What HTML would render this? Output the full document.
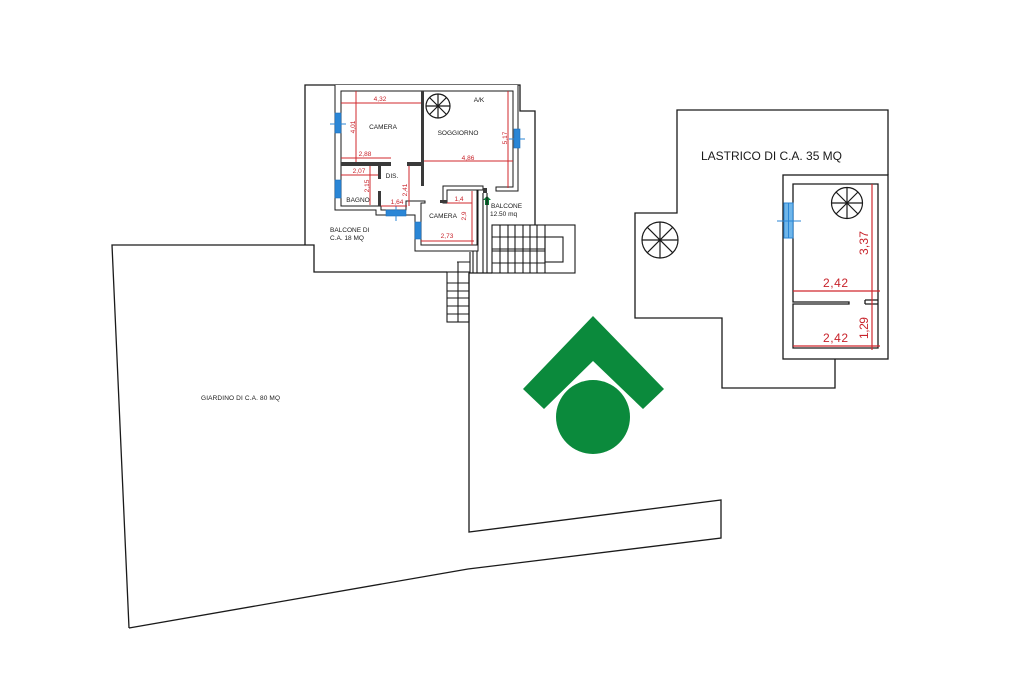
<!DOCTYPE html>
<html><head><meta charset="utf-8"><style>
html,body{margin:0;padding:0;background:#fff;width:1024px;height:682px;overflow:hidden}
svg{display:block}
text{font-family:"Liberation Sans",Arial,sans-serif}
</style></head><body>
<svg width="1024" height="682" viewBox="0 0 1024 682" xmlns="http://www.w3.org/2000/svg">
<rect width="1024" height="682" fill="#fff"/>
<g fill="none" stroke="#1a1a1a" stroke-width="1.3" stroke-linejoin="miter">
<!-- garden -->
<path d="M129,628 L112,245 L314,245 L314,272 L447,272"/>
<path d="M469,273 L469,532 L721,500 L721,538 L468,569 L129,628"/>
<path d="M469,273 L492,273"/>
<!-- building outer boundary -->
<path d="M305,245 L305,85 L520,85 L520,111 L535,111 L535,225"/>
<!-- lastrico -->
<path d="M888,175 L888,110 L677,110 L677,213 L635,213 L635,318 L722,318 L722,388 L835,388 L835,359"/>
<rect x="783" y="175" width="105" height="184"/>
<path d="M849,302 L793,302 L793,184 L878,184 L878,348 L793,348 L793,304 L849,304 Z"/>
<path d="M865,300 L878,300 M865,304 L878,304 M865,300 L865,304"/>
</g>
<!-- lastrico red dims -->
<g stroke="#d0282e" stroke-width="1.2" fill="none">
<path d="M872,184 L872,350 M793,291 L880,291 M793,346 L880,346"/>
</g>
<g fill="#c8232b" font-size="12">
<text x="823" y="287" textLength="25">2,42</text>
<text x="823" y="342" textLength="25">2,42</text>
<text transform="translate(868,255) rotate(-90)" textLength="24">3,37</text>
<text transform="translate(868,339) rotate(-90)" textLength="22">1,29</text>
</g>
<text x="701" y="160" font-size="12" fill="#1a1a1a" textLength="141">LASTRICO DI C.A. 35 MQ</text>
<!-- spirals -->
<g fill="none" stroke="#1a1a1a" stroke-width="1.2">
<circle cx="660" cy="240" r="18"/>
<path d="M642,240 L678,240 M660,222 L660,258 M647.3,227.3 L672.7,252.7 M647.3,252.7 L672.7,227.3"/>
<circle cx="847" cy="203" r="15.5"/>
<path d="M831.5,203 L862.5,203 M847,187.5 L847,218.5 M836,192 L858,214 M836,214 L858,192"/>
<circle cx="438" cy="106" r="12"/>
<path d="M426,106 L450,106 M438,94 L438,118 M429.5,97.5 L446.5,114.5 M429.5,114.5 L446.5,97.5"/>
</g>
<!-- lastrico window -->
<rect x="784" y="203" width="9" height="35" fill="#6fb6ea" stroke="#2a86d6" stroke-width="1"/>
<path d="M788.5,203 L788.5,238 M777,221 L801,221" stroke="#2a86d6" stroke-width="1"/>
<!-- floor plan walls -->
<g fill="#fff" stroke="#1a1a1a" stroke-width="1">
<path d="M335,85 L335,210 L376,210 L376,215 L415,215 L415,251 L478,251 L478,190 L483,190 L483,186 L443,186 L443,203 L447,203 L447,190 L477,190 L477,245 L421,245 L421,203 L425,203 L425,201 L406,201 L406,210 L381,210 L381,206 L341,206 L341,91 L513,91 L513,187 L496,187 L496,191 L518,191 L518,85"/>
</g>
<g fill="#3a3a3a">
<rect x="421" y="91" width="3" height="95"/>
<rect x="341" y="162" width="50" height="4"/>
<rect x="407" y="162" width="17" height="4"/>
<rect x="378" y="165" width="3" height="14"/>
<rect x="378" y="191" width="3" height="15"/>
<rect x="440" y="200" width="7" height="3"/>
<rect x="483" y="188" width="4" height="5"/>
</g>
<!-- windows -->
<g fill="#2a86d6" stroke="#1f6fb8" stroke-width="0.6">
<rect x="335" y="113" width="6" height="20"/>
<rect x="335" y="180" width="6" height="18"/>
<rect x="514" y="129" width="6" height="19"/>
<rect x="386" y="210" width="20" height="6"/>
<rect x="415" y="222" width="6" height="17"/>
</g>
<path d="M330,124 L346,124 M509,139 L525,139 M396,206 L396,221" stroke="#2a86d6" stroke-width="1"/>
<!-- red dims floorplan -->
<g stroke="#d0282e" stroke-width="1" fill="none">
<path d="M341,103 L421,103 M356,91 L356,162 M341,158 L391,158 M341,175 L378,175 M370,166 L370,205 M409,166 L409,206 M381,206 L407,206"/>
<path d="M424,161 L513,161 M508,91 L508,188"/>
<path d="M447,203 L472,203 M472,191 L472,245 M421,241 L474,241"/>
</g>
<g fill="#c8232b" font-size="6.5" text-anchor="middle">
<text x="380" y="101">4,32</text>
<text x="365" y="156">2,88</text>
<text x="359" y="173">2,07</text>
<text x="397" y="204">1,64</text>
<text x="468" y="160">4,86</text>
<text x="459" y="201">1,4</text>
<text x="447" y="238">2,73</text>
<text transform="translate(355,127) rotate(-90)">4,01</text>
<text transform="translate(369,186) rotate(-90)">2,15</text>
<text transform="translate(407,190) rotate(-90)">2,41</text>
<text transform="translate(507,138) rotate(-90)">5,17</text>
<text transform="translate(466,216) rotate(-90)">2,9</text>
</g>
<g fill="#1a1a1a" font-size="6.5">
<text x="383" y="129" text-anchor="middle">CAMERA</text>
<text x="458" y="135" text-anchor="middle">SOGGIORNO</text>
<text x="479" y="102" text-anchor="middle">A/K</text>
<text x="392" y="178" text-anchor="middle">DIS.</text>
<text x="358" y="202" text-anchor="middle">BAGNO</text>
<text x="443" y="218" text-anchor="middle">CAMERA</text>
<text x="330" y="232">BALCONE DI</text>
<text x="330" y="240">C.A. 18 MQ</text>
<text x="491" y="208">BALCONE</text>
<text x="490" y="216">12.50 mq</text>
<text x="201" y="400" textLength="79">GIARDINO DI C.A. 80 MQ</text>
</g>
<!-- green arrow -->
<path d="M487,196 L491,200 L489,200 L489,205 L485,205 L485,200 L483,200 Z" fill="#0b7a36"/>
<!-- stairs -->
<g fill="none" stroke="#1a1a1a" stroke-width="1.1">
<rect x="492" y="225" width="83" height="48"/>
<path d="M500,225 L500,273 M508,225 L508,273 M515,225 L515,273 M523,225 L523,273 M530,225 L530,273 M537,225 L537,273 M545,225 L545,273"/>
<path d="M492,237 L545,237 M492,249 L545,249 M492,251 L545,251 M492,263 L545,263"/>
<rect x="545" y="237" width="18" height="25"/>
<rect x="447" y="272" width="22" height="50"/>
<path d="M458,262 L458,322 M447,283 L469,283 M447,291 L469,291 M447,298 L469,298 M447,306 L469,306 M447,314 L469,314"/>
<path d="M457,262 L470,262 M470,252 L470,273 M473,251 L473,273 M477,251 L477,273 M483,193 L483,273 M487,193 L487,273"/>
</g>
<!-- logo -->
<polygon points="593,316 664,389 643,409 593,361 544,409 523,389" fill="#0b8a3c"/>
<circle cx="593" cy="417" r="37" fill="#0b8a3c"/>
</svg>
</body></html>
